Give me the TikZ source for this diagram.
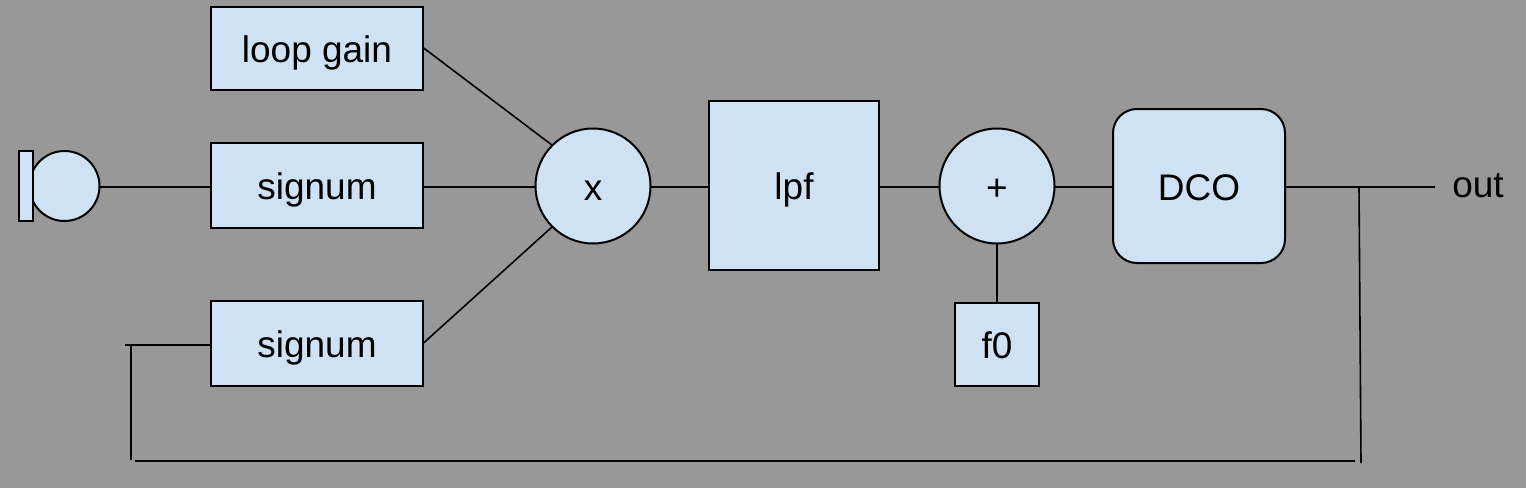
\documentclass[tikz,border=0pt]{standalone}
\usepackage{fontspec}
\setmainfont{Liberation Sans}
\definecolor{canvas}{HTML}{989898}
\definecolor{blockfill}{HTML}{CFE2F3}
\tikzset{
  wire/.style={draw=black,line width=2pt},
  thinwire/.style={draw=black,line width=1.6pt},
  blockbase/.style={draw=black,line width=2pt,fill=blockfill,inner sep=0pt,outer sep=0pt,
    font=\fontsize{37}{44}\selectfont,text height=35pt,text depth=7pt,align=center},
  squarebox/.style={blockbase,rectangle},
  roundbox/.style={blockbase,rectangle,rounded corners=24pt},
  junction/.style={blockbase,circle,minimum size=115pt},
  caption/.style={inner sep=0pt,font=\fontsize{37}{44}\selectfont,text height=35pt,text depth=7pt},
}
\begin{document}
\begin{tikzpicture}[x=1pt,y=-1pt]
  \path[fill=canvas] (0,0) rectangle (1526,488);
  \useasboundingbox (0,0) rectangle (1526,488);

  % Height of the main signal rail, and the free ends of the feedback path
  \coordinate (rail) at (0,186.7);
  \coordinate (fbstub) at (125,345);
  \coordinate (fbtopleft) at (131,345);
  \coordinate (fbbotleft) at (131,460);
  \coordinate (fbrunstart) at (135,461);
  \coordinate (fbrunend) at (1355,461);
  \coordinate (taptop) at (1359,188);
  \coordinate (tapbot) at (1361,463);
  \coordinate (outend) at (1435,186.7);

  % Blocks
  \path
    node[junction,minimum size=70pt] (mic) at (64.5,186) {}
    node[squarebox,minimum width=212pt,minimum height=83pt] (gain) at (317,48.5) {loop gain}
    node[squarebox,minimum width=212pt,minimum height=85pt] (sgnA) at (317,185.5) {signum}
    node[squarebox,minimum width=212pt,minimum height=85pt] (sgnB) at (317,343.5) {signum}
    node[junction] (mult) at (593,186) {x}
    node[squarebox,minimum width=170pt,minimum height=169pt] (lpf) at (794,185.5) {lpf}
    node[junction] (sum) at (997,186) {+}
    node[squarebox,minimum width=84pt,minimum height=83pt] (fzero) at (997,344.5) {f0}
    node[roundbox,minimum width=172pt,minimum height=154pt] (dco) at (1199,186) {DCO}
    node[squarebox,minimum width=14pt,minimum height=70pt] (micbody) at (26,186) {}
    node[caption] (outlabel) at (1478,183.3) {out};

  % Connectors between the blocks
  \draw[wire] (mic.east |- rail) -- (sgnA.west |- rail);
  \draw[wire] (sgnA.east |- rail) -- (mult.west |- rail);
  \draw[thinwire] ([yshift=1pt]gain.east) -- (mult.135);
  \draw[thinwire] (sgnB.east) -- (mult.225);
  \draw[wire] (mult.east |- rail) -- (lpf.west |- rail);
  \draw[wire] (lpf.east |- rail) -- (sum.west |- rail);
  \draw[wire] (sum.east |- rail) -- (dco.west |- rail);
  \draw[wire] (sum.south) -- (fzero.north);
  \draw[wire] (dco.east |- rail) -- (outend);
  \draw[wire] (sgnB.west |- fbstub) -- (fbstub);
  \draw[wire] (fbtopleft) -- (fbbotleft);
  \draw[wire] (fbrunstart) -- (fbrunend);
  \draw[thinwire] (taptop) -- (tapbot);
\end{tikzpicture}
\end{document}
